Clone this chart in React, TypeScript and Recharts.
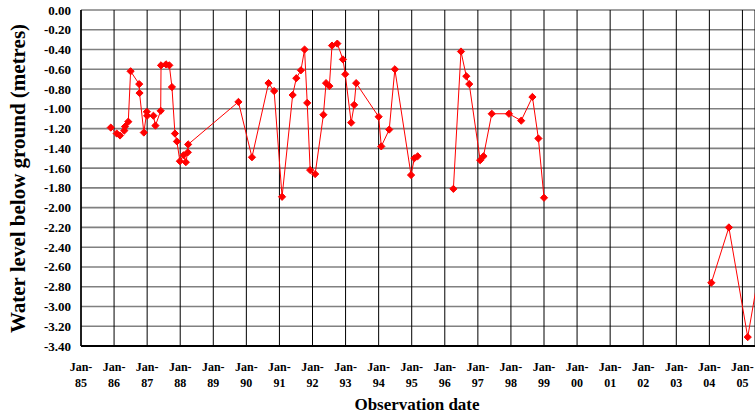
import React from 'react';
import { LineChart, Line, XAxis, YAxis, CartesianGrid, Label } from 'recharts';

// Observation dates as decimal years; null levels mark breaks in the record
const obsDates = [
  1985.90, 1986.08, 1986.18, 1986.31, 1986.33, 1986.43, 1986.50, 1986.76, 1986.77, 1986.90,
  1986.99, 1987.00, 1987.19, 1987.25, 1987.41, 1987.42, 1987.57, 1987.67, 1987.75, 1987.84,
  1987.90, 1987.99, 1988.10, 1988.17, 1988.23, 1988.24, 1989.76, 1990.17, 1990.67, 1990.84,
  1991.08, 1991.40, 1991.51, 1991.65, 1991.76, 1991.84, 1991.93, 1992.08, 1992.33, 1992.41,
  1992.51, 1992.59, 1992.75, 1992.92, 1992.99, 1993.17, 1993.26, 1993.32, 1994.00, 1994.08,
  1994.32, 1994.49, 1994.98, 1995.08, 1995.18, 1995.70, 1996.26, 1996.49, 1996.65, 1996.74,
  1997.07, 1997.17, 1997.42, 1997.94, 1998.31, 1998.65, 1998.83, 1999.00, 2001.50, 2004.06,
  2004.59, 2005.16, 2005.70,
];

const waterLevels: (number | null)[] = [
  -1.19, -1.25, -1.27, -1.22, -1.18, -1.13, -0.62, -0.75, -0.84, -1.24,
  -1.03, -1.07, -1.07, -1.17, -1.02, -0.56, -0.55, -0.56, -0.78, -1.25,
  -1.33, -1.53, -1.47, -1.54, -1.44, -1.36, -0.93, -1.49, -0.74, -0.82,
  -1.89, -0.86, -0.69, -0.61, -0.40, -0.94, -1.62, -1.66, -1.06, -0.74,
  -0.77, -0.36, -0.34, -0.50, -0.65, -1.14, -0.96, -0.74, -1.08, -1.38,
  -1.21, -0.60, -1.67, -1.50, -1.48, null, -1.81, -0.42, -0.67, -0.75,
  -1.52, -1.48, -1.05, -1.05, -1.12, -0.88, -1.30, -1.90, null, -2.76,
  -2.20, -3.31, -2.26,
];

const yearTicks = [
  1985, 1986, 1987, 1988, 1989, 1990, 1991, 1992, 1993, 1994, 1995,
  1996, 1997, 1998, 1999, 2000, 2001, 2002, 2003, 2004, 2005,
];
const yearTickLabels = [
  'Jan-85', 'Jan-86', 'Jan-87', 'Jan-88', 'Jan-89', 'Jan-90', 'Jan-91', 'Jan-92', 'Jan-93', 'Jan-94', 'Jan-95',
  'Jan-96', 'Jan-97', 'Jan-98', 'Jan-99', 'Jan-00', 'Jan-01', 'Jan-02', 'Jan-03', 'Jan-04', 'Jan-05',
];
const levelTicks = [
  0, -0.2, -0.4, -0.6, -0.8, -1.0, -1.2, -1.4, -1.6, -1.8, -2.0, -2.2, -2.4, -2.6, -2.8, -3.0, -3.2, -3.4,
];

const data = obsDates.map((d, i) => ({ date: d, level: waterLevels[i] }));

const FONT = '"Liberation Serif", "Times New Roman", serif';

const XTick = (props: any) => {
  const { x, y, payload } = props;
  const idx = yearTicks.indexOf(payload.value);
  const label = idx >= 0 ? yearTickLabels[idx] : '';
  const parts = label.split('-');
  return (
    <g>
      <text x={x} y={y + 25} textAnchor="middle" fontSize={12} fontWeight="bold" fontFamily={FONT} fill="#000">
        {parts[0] + '-'}
      </text>
      <text x={x} y={y + 41} textAnchor="middle" fontSize={12} fontWeight="bold" fontFamily={FONT} fill="#000">
        {parts[1]}
      </text>
    </g>
  );
};

const YTick = (props: any) => {
  const { x, y, payload } = props;
  const v = Number(payload.value);
  const txt = Math.abs(v) < 1e-9 ? '0.00' : v.toFixed(2);
  return (
    <text x={x} y={y + 4.5} textAnchor="end" fontSize={13} fontWeight="bold" fontFamily={FONT} fill="#000">
      {txt}
    </text>
  );
};

const Diamond = (props: any) => {
  const { cx, cy, value, index } = props;
  if (cx == null || cy == null || value == null || isNaN(cx) || isNaN(cy)) return <g key={`d${index}`} />;
  const r = 3.6;
  return (
    <polygon
      key={`d${index}`}
      points={`${cx},${cy - r} ${cx + r},${cy} ${cx},${cy + r} ${cx - r},${cy}`}
      fill="#FF0000"
      stroke="#FF0000"
      strokeWidth={1}
    />
  );
};

export default function App() {
  return (
    <div style={{ position: 'absolute', left: 0, top: 0, background: '#fff' }}>
      <LineChart width={755} height={418} data={data} margin={{ top: 10, right: 0, bottom: 0, left: 0 }}>
        <CartesianGrid vertical={false} stroke="#808080" strokeWidth={1.6} />
        <CartesianGrid horizontal={false} stroke="#000" strokeWidth={1} />
        <XAxis
          dataKey="date"
          type="number"
          domain={[1985, 2005.38]}
          ticks={yearTicks}
          allowDataOverflow
          interval={0}
          height={72}
          tickSize={0}
          tickMargin={0}
          tick={<XTick />}
          axisLine={{ stroke: '#000', strokeWidth: 2 }}
          tickLine={false}
        >
          <Label
            content={() => (
              <text x={417} y={410} textAnchor="middle" fontSize={17} fontWeight="bold" fontFamily={FONT} fill="#000">
                Observation date
              </text>
            )}
          />
        </XAxis>
        <YAxis
          type="number"
          domain={[-3.4, 0]}
          ticks={levelTicks}
          allowDataOverflow
          interval={0}
          width={81}
          tickSize={0}
          tickMargin={10}
          tick={<YTick />}
          axisLine={{ stroke: '#000', strokeWidth: 1.5 }}
          tickLine={false}
        >
          <Label
            content={() => (
              <text
                x={24.5}
                y={178.5}
                transform="rotate(-90 24.5 178.5)"
                textAnchor="middle"
                fontSize={21}
                fontWeight="bold"
                fontFamily={FONT}
                fill="#000"
              >
                Water level below ground (metres)
              </text>
            )}
          />
        </YAxis>
        <Line
          type="linear"
          dataKey="level"
          stroke="#FF0000"
          strokeWidth={1}
          dot={<Diamond />}
          activeDot={false}
          connectNulls={false}
          isAnimationActive={false}
        />
      </LineChart>
    </div>
  );
}
